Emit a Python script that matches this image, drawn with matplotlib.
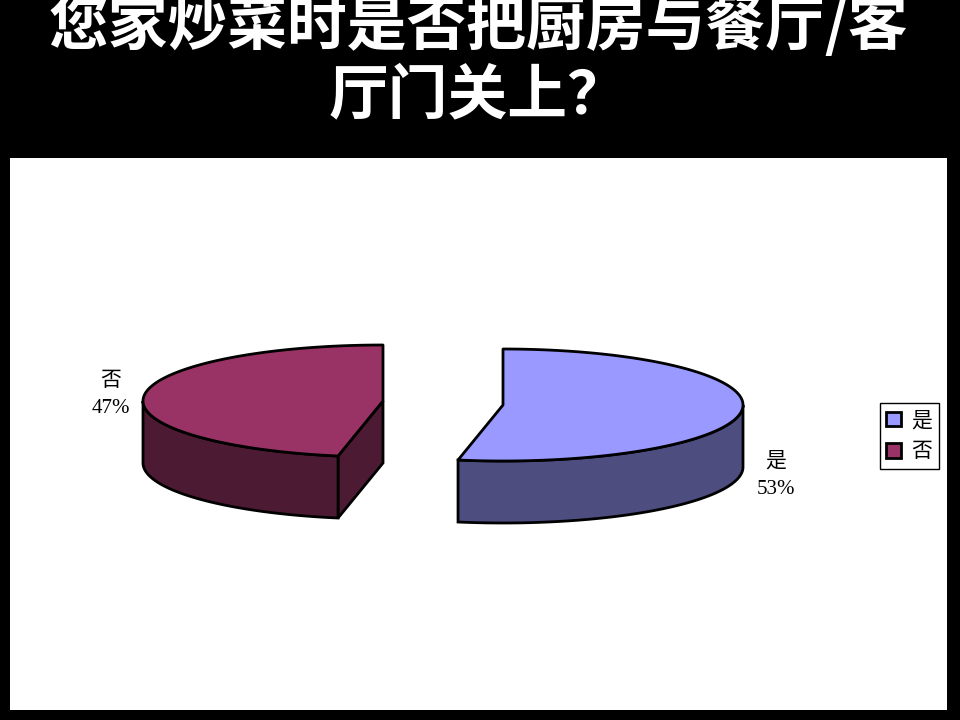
import numpy as np
import matplotlib
matplotlib.use("Agg")
import matplotlib.pyplot as plt
from matplotlib.patches import Polygon, Rectangle, Patch

categories = ["是", "否"]
shares = [53, 47]
top_colors = ["#9999FF", "#993366"]
side_colors = ["#4D4D80", "#4D1A33"]
title = "您家炒菜时是否把厨房与餐厅/客\n厅门关上？"

CJK = ["Noto Sans CJK SC", "DejaVu Sans"]
LABEL = ["Liberation Serif", "Noto Sans CJK SC"]

fig = plt.figure(figsize=(9.6, 7.2), dpi=100, facecolor="black")
ax = fig.add_axes([0, 0, 1, 1])
ax.set_xlim(0, 960)
ax.set_ylim(720, 0)
ax.axis("off")
ax.add_patch(Rectangle((10, 158), 937, 552, fc="white", ec="none", zorder=0))

A, B, DEPTH = 240, 56, 62
centers = [(503, 405), (383, 401)]
label_pos = [(776, 476), (111, 395)]


def rim(cx, cy, t0, t1):
    t = np.radians(np.linspace(t0, t1, 200))
    return cx + A * np.sin(t), cy - B * np.cos(t)


start = 0.0
for i, share in enumerate(shares):
    end = start + share * 3.6
    cx, cy = centers[i]
    if i == 0:
        # visible outer wall runs from 3 o'clock to the slice end
        x, y = rim(cx, cy, 90, end)
        wall = np.r_[np.c_[x, y], np.c_[x[::-1], y[::-1] + DEPTH]]
        ax.add_patch(Polygon(wall, fc=side_colors[i], ec="black", lw=2, zorder=2))
    else:
        # cut face towards the viewer, then the outer wall
        ex, ey = rim(cx, cy, start, start)
        face = [(cx, cy), (cx, cy + DEPTH), (ex[0], ey[0] + DEPTH), (ex[0], ey[0])]
        ax.add_patch(Polygon(face, fc=side_colors[i], ec="black", lw=2, zorder=2))
        x, y = rim(cx, cy, start, 270)
        wall = np.r_[np.c_[x, y], np.c_[x[::-1], y[::-1] + DEPTH]]
        ax.add_patch(Polygon(wall, fc=side_colors[i], ec="black", lw=2, zorder=2))
    x, y = rim(cx, cy, start, end)
    top = np.r_[[(cx, cy)], np.c_[x, y]]
    ax.add_patch(Polygon(top, fc=top_colors[i], ec="black", lw=2, zorder=3, joinstyle="round"))
    lx, ly = label_pos[i]
    ax.text(lx, ly, f"{categories[i]}\n{share}%", ha="center", va="center",
            fontsize=15, family=LABEL, color="black", linespacing=1.6, zorder=4)
    start = end

handles = [Patch(fc=c, ec="black", lw=2) for c in top_colors]
ax.legend(handles, categories, loc="upper left",
          bbox_to_anchor=(880 / 960, 1 - 403 / 720), borderaxespad=0,
          fancybox=False, framealpha=1, facecolor="white", edgecolor="black",
          prop={"family": CJK, "size": 15}, handlelength=0.72, handleheight=0.72,
          handletextpad=0.5, labelspacing=0.44, borderpad=0.3)

ax.text(478, 61, title, ha="center", va="center", color="white", fontsize=43,
        fontweight="bold", family=CJK, linespacing=1.17, zorder=5)

fig.savefig("out.png", dpi=100, facecolor="black")
